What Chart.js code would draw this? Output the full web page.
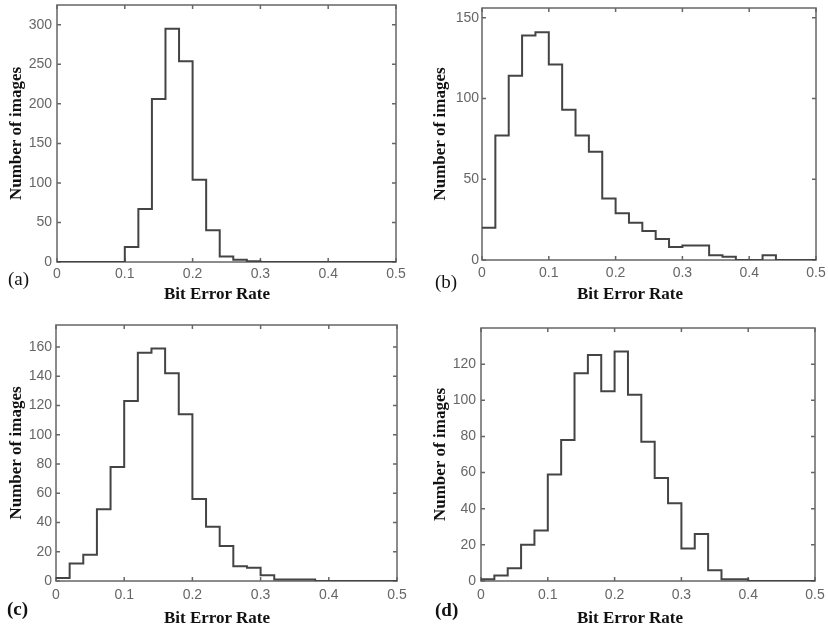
<!DOCTYPE html>
<html>
<head>
<meta charset="utf-8">
<script src="https://cdn.jsdelivr.net/npm/chart.js@4/dist/chart.umd.min.js"></script>
<style>
body { margin: 0; background: #fff; width: 828px; height: 629px; position: relative; overflow: hidden; }
canvas { position: absolute; }
.lbl { position: absolute; font-family: "Liberation Serif", "Times New Roman", serif; color: #111; white-space: nowrap; line-height: 1; }
.xt { font-weight: bold; font-size: 17px; transform: translateX(-50%); }
.pl { font-size: 19px; }
</style>
</head>
<body>
<canvas id="ca" width="414" height="314" style="left:0;top:0"></canvas>
<canvas id="cb" width="414" height="314" style="left:414px;top:0"></canvas>
<canvas id="cc" width="414" height="315" style="left:0;top:314px"></canvas>
<canvas id="cd" width="414" height="315" style="left:414px;top:314px"></canvas>

<div class="lbl pl" style="left:8px;top:269px">(a)</div>
<div class="lbl pl" style="left:435px;top:272px">(b)</div>
<div class="lbl pl" style="left:7px;top:599px;font-weight:bold">(c)</div>
<div class="lbl pl" style="left:435px;top:600px;font-weight:bold">(d)</div>

<div class="lbl xt" style="left:217px;top:285px">Bit Error Rate</div>
<div class="lbl xt" style="left:630px;top:285px">Bit Error Rate</div>
<div class="lbl xt" style="left:217px;top:609px">Bit Error Rate</div>
<div class="lbl xt" style="left:630px;top:609px">Bit Error Rate</div>

<script>
// left edge of each 0.02 wide bin
const binStart = [0, 0.02, 0.04, 0.06, 0.08, 0.10, 0.12, 0.14, 0.16, 0.18, 0.20, 0.22, 0.24,
                  0.26, 0.28, 0.30, 0.32, 0.34, 0.36, 0.38, 0.40, 0.42, 0.44, 0.46, 0.48];
const binEnd = 0.5;
const xTicks = [0, 0.1, 0.2, 0.3, 0.4, 0.5];

const countsA = [0, 0, 0, 0, 0, 19, 67, 206, 295, 254, 104, 40, 7, 3, 1, 0, 0, 0, 0, 0, 0, 0, 0, 0, 0];
const countsB = [20, 77, 114, 139, 141, 121, 93, 77, 67, 38, 29, 23, 18, 13, 8, 9, 9, 3, 2, 0, 0, 3, 0, 0, 0];
const countsC = [2, 12, 18, 49, 78, 123, 156, 159, 142, 114, 56, 37, 24, 10, 9, 4, 1, 1, 1, 0, 0, 0, 0, 0, 0];
const countsD = [1, 3, 7, 20, 28, 59, 78, 115, 125, 105, 127, 103, 77, 57, 43, 18, 26, 6, 1, 1, 0, 0, 0, 0, 0];

const yTicksA = [0, 50, 100, 150, 200, 250, 300];
const yTicksB = [0, 50, 100, 150];
const yTicksC = [0, 20, 40, 60, 80, 100, 120, 140, 160];
const yTicksD = [0, 20, 40, 60, 80, 100, 120];

const yTitle = 'Number of images';

// box round the plot with small inward tick marks on all four sides
const frame = {
    id: 'frame',
    beforeDatasetsDraw(chart) {
        const { ctx, chartArea: a, scales: { x, y } } = chart;
        ctx.save();
        ctx.strokeStyle = '#666';
        ctx.lineWidth = 1.5;
        ctx.strokeRect(a.left, a.top, a.right - a.left, a.bottom - a.top);
        ctx.beginPath();
        x.ticks.forEach(t => {
            const px = x.getPixelForValue(t.value);
            ctx.moveTo(px, a.bottom); ctx.lineTo(px, a.bottom - 4);
            ctx.moveTo(px, a.top); ctx.lineTo(px, a.top + 4);
        });
        y.ticks.forEach(t => {
            const py = y.getPixelForValue(t.value);
            ctx.moveTo(a.left, py); ctx.lineTo(a.left + 4, py);
            ctx.moveTo(a.right, py); ctx.lineTo(a.right - 4, py);
        });
        ctx.stroke();
        ctx.restore();
    }
};

function makeHist(id, counts, yTicks, opt) {
    const pts = binStart.map((b, i) => ({ x: b, y: counts[i] }));
    pts.push({ x: binEnd, y: counts[counts.length - 1] });

    const tickFont = { family: '"Liberation Sans", Arial, sans-serif', size: 14 };

    new Chart(document.getElementById(id), {
        type: 'line',
        data: {
            datasets: [{
                data: pts,
                stepped: 'before',
                borderColor: '#444',
                borderWidth: 2,
                pointRadius: 0,
                fill: false,
            }]
        },
        options: {
            responsive: false,
            animation: false,
            layout: { padding: opt.pad },
            plugins: { legend: { display: false }, tooltip: { enabled: false } },
            scales: {
                x: {
                    type: 'linear',
                    min: 0,
                    max: 0.5,
                    grid: { display: false, drawTicks: false },
                    border: { display: false },
                    ticks: {
                        padding: opt.xPad,
                        color: '#666',
                        font: tickFont,
                        maxRotation: 0,
                        callback: v => v === 0 ? '0' : v.toFixed(1),
                    },
                    afterBuildTicks: s => { s.ticks = xTicks.map(v => ({ value: v })); },
                    afterFit: s => { s.height = opt.xH; s.paddingLeft = 0; s.paddingRight = 0; },
                },
                y: {
                    min: 0,
                    max: opt.yMax,
                    grid: { display: false, drawTicks: false },
                    border: { display: false },
                    ticks: { padding: opt.yPad, color: '#666', font: tickFont },
                    afterBuildTicks: s => { s.ticks = yTicks.map(v => ({ value: v })); },
                    title: {
                        display: true,
                        text: yTitle,
                        color: '#111',
                        font: { family: '"Liberation Serif", "Times New Roman", serif', size: 17, weight: 'bold' },
                        padding: { top: opt.titlePad, bottom: 0 },
                    },
                    afterFit: s => { s.width = opt.yW; s.paddingTop = 0; s.paddingBottom = 0; },
                }
            }
        },
        plugins: [frame]
    });
}

makeHist('ca', countsA, yTicksA, { yMax: 325, pad: { left: 0, top: 5, right: 18, bottom: 0 }, yW: 57, xH: 52, xPad: 4, yPad: 5, titlePad: 6 });
makeHist('cb', countsB, yTicksB, { yMax: 156, pad: { left: 0, top: 8, right: 12, bottom: 0 }, yW: 68, xH: 54, xPad: 5, yPad: 3, titlePad: 16 });
makeHist('cc', countsC, yTicksC, { yMax: 175, pad: { left: 0, top: 11, right: 17, bottom: 0 }, yW: 56, xH: 48, xPad: 6, yPad: 4, titlePad: 6 });
makeHist('cd', countsD, yTicksD, { yMax: 140, pad: { left: 0, top: 14, right: 13, bottom: 0 }, yW: 67, xH: 48, xPad: 6, yPad: 5, titlePad: 16 });
</script>
</body>
</html>
